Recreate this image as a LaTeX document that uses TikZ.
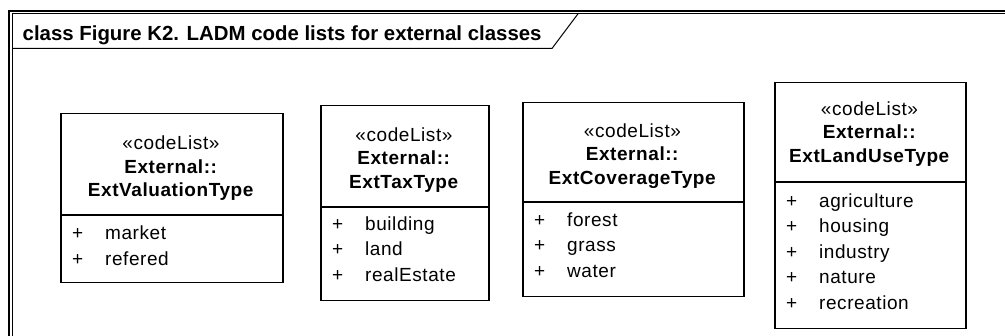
\documentclass[tikz,border=0pt]{standalone}
\usepackage{fontspec}
\setmainfont{Liberation Sans}[LetterSpace=3]
\newfontfamily\titlefont{Liberation Sans}[LetterSpace=0]
\begin{document}
\begin{tikzpicture}[x=1pt,y=-1pt,
  umlbox/.style={draw, line width=1.5pt, inner sep=0pt, anchor=north west},
  divline/.style={line width=1.5pt},
  hdr/.style={align=center, inner sep=0pt, font=\fontsize{19}{23.5}\selectfont},
  attr/.style={anchor=base west, inner sep=0pt, font=\fontsize{19}{21}\selectfont},
  frameouter/.style={line width=2pt},
  frameinner/.style={line width=1pt}]
\useasboundingbox (0,0) rectangle (1005,336);
\clip (0,0) rectangle (1005,336);
\fill[white] (0,0) rectangle (1005,336);
% frame
\path (8.7,11) coordinate (fo1) (1030,350) coordinate (fo2)
      (12.2,13.8) coordinate (fi1) (1026,346) coordinate (fi2);
\draw[frameouter] (fo1) rectangle (fo2);
\draw[frameinner] (fi1) rectangle (fi2);
\path (12.2,48.5) coordinate (t1) (552,48.5) coordinate (t2) (578,13.8) coordinate (t3);
\draw[frameinner] (t1) -- (t2) -- (t3);
\node[anchor=base west, inner sep=0pt, font=\titlefont\bfseries\fontsize{20.4}{22}\selectfont] (title) at (22.5,41) {class Figure K2. LADM code lists for external classes};
% box 1
\node[umlbox, minimum width=222pt, minimum height=169pt] (b1) at (60,113) {};
\path (60,215) coordinate (d1a) (282,215) coordinate (d1b);
\draw[divline] (d1a) -- (d1b);
\node[hdr] (h1) at (171,168.5) {«codeList»\\\textbf{External::}\\\textbf{ExtValuationType}};
\node[attr] (a11) at (72,240) {\makebox[33pt][l]{+}market};
\node[attr] (a12) at (72,265.5) {\makebox[33pt][l]{+}refered};
% box 2
\node[umlbox, minimum width=168pt, minimum height=195pt] (b2) at (320,105) {};
\path (320,207) coordinate (d2a) (488,207) coordinate (d2b);
\draw[divline] (d2a) -- (d2b);
\node[hdr] (h2) at (404,160) {«codeList»\\\textbf{External::}\\\textbf{ExtTaxType}};
\node[attr] (a21) at (332,230.5) {\makebox[33pt][l]{+}building};
\node[attr] (a22) at (332,256) {\makebox[33pt][l]{+}land};
\node[attr] (a23) at (332,281.5) {\makebox[33pt][l]{+}realEstate};
% box 3
\node[umlbox, minimum width=221pt, minimum height=194pt] (b3) at (522,102) {};
\path (522,202) coordinate (d3a) (743,202) coordinate (d3b);
\draw[divline] (d3a) -- (d3b);
\node[hdr] (h3) at (632.5,156) {«codeList»\\\textbf{External::}\\\textbf{ExtCoverageType}};
\node[attr] (a31) at (534,226.5) {\makebox[33pt][l]{+}forest};
\node[attr] (a32) at (534,252) {\makebox[33pt][l]{+}grass};
\node[attr] (a33) at (534,277.5) {\makebox[33pt][l]{+}water};
% box 4
\node[umlbox, minimum width=191pt, minimum height=246pt] (b4) at (774,82) {};
\path (774,182) coordinate (d4a) (965,182) coordinate (d4b);
\draw[divline] (d4a) -- (d4b);
\node[hdr] (h4) at (869.5,134) {«codeList»\\\textbf{External::}\\\textbf{ExtLandUseType}};
\node[attr] (a41) at (786,207.5) {\makebox[33pt][l]{+}agriculture};
\node[attr] (a42) at (786,233) {\makebox[33pt][l]{+}housing};
\node[attr] (a43) at (786,258.5) {\makebox[33pt][l]{+}industry};
\node[attr] (a44) at (786,284) {\makebox[33pt][l]{+}nature};
\node[attr] (a45) at (786,309.5) {\makebox[33pt][l]{+}recreation};
\end{tikzpicture}
\end{document}
